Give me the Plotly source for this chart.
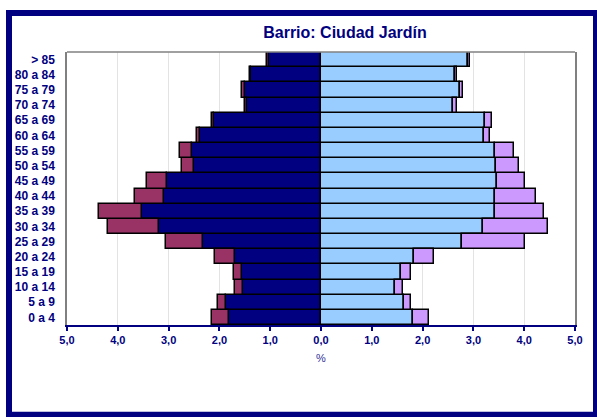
import plotly.graph_objects as go

age_groups = ["0 a 4", "5 a 9", "10 a 14", "15 a 19", "20 a 24", "25 a 29", "30 a 34",
              "35 a 39", "40 a 44", "45 a 49", "50 a 54", "55 a 59", "60 a 64", "65 a 69",
              "70 a 74", "75 a 79", "80 a 84", "> 85"]

left_base = [1.81, 1.87, 1.53, 1.55, 1.70, 2.32, 3.18, 3.53, 3.10, 3.03, 2.50, 2.54, 2.39, 2.10, 1.45, 1.49, 1.37, 1.03]
left_extra = [0.33, 0.16, 0.17, 0.17, 0.38, 0.74, 1.02, 0.84, 0.56, 0.40, 0.24, 0.24, 0.06, 0.05, 0.04, 0.06, 0.03, 0.03]
right_base = [1.82, 1.64, 1.46, 1.58, 1.83, 2.77, 3.19, 3.42, 3.42, 3.47, 3.44, 3.42, 3.21, 3.23, 2.60, 2.74, 2.63, 2.89]
right_extra = [0.31, 0.14, 0.15, 0.20, 0.40, 1.25, 1.27, 0.96, 0.82, 0.55, 0.45, 0.37, 0.12, 0.14, 0.07, 0.05, 0.04, 0.04]

tick_vals = [-5, -4, -3, -2, -1, 0, 1, 2, 3, 4, 5]
tick_text = ["5,0", "4,0", "3,0", "2,0", "1,0", "0,0", "1,0", "2,0", "3,0", "4,0", "5,0"]

NAVY = "#000080"
FONT = "Arial, Liberation Sans, sans-serif"

def bar(vals, color, sign):
    return go.Bar(y=age_groups, x=[sign * v for v in vals], orientation="h",
                  marker=dict(color=color, line=dict(color="black", width=1.5)),
                  showlegend=False)

fig = go.Figure()
fig.add_trace(bar(left_base, "#000080", -1))
fig.add_trace(bar(left_extra, "#993366", -1))
fig.add_trace(bar(right_base, "#99CCFF", 1))
fig.add_trace(bar(right_extra, "#CC99FF", 1))

W, H = 597, 417
L, R, T, B = 67, 575, 51.5, 325
pw, ph = R - L, B - T

def px_x(p):
    return (p - L) / pw

def px_y(p):
    return (B - p) / ph

fig.update_layout(
    width=W, height=H,
    margin=dict(l=L, r=W - R, t=T, b=H - B, pad=0),
    barmode="relative", bargap=0.0,
    plot_bgcolor="white", paper_bgcolor="white",
    font=dict(family=FONT, color=NAVY),
    title=dict(text="<b>Barrio: Ciudad Jardín</b>", xref="container", x=345 / W, xanchor="center",
               yref="container", y=1 - 32 / H, yanchor="middle",
               font=dict(size=16, color=NAVY, family=FONT)),
    xaxis=dict(range=[-5, 5], tickvals=tick_vals, ticktext=tick_text,
               tickfont=dict(size=11, color=NAVY, family=FONT, weight="bold"),
               showgrid=True, gridcolor="#E3E3E3", gridwidth=1,
               zeroline=False, showline=True, linecolor=NAVY, linewidth=2,
               ticks="outside", ticklen=4, tickcolor=NAVY, tickwidth=1.5,
               title=dict(text="%", font=dict(size=11, color="#333399", family=FONT), standoff=9)),
    yaxis=dict(categoryorder="array", categoryarray=age_groups,
               tickfont=dict(size=12, color=NAVY, family=FONT, weight="bold"),
               showgrid=False, zeroline=False, showline=True, mirror=True,
               linecolor="#808080", linewidth=1.5, ticks="", ticklabelstandoff=8),
    shapes=[
        dict(type="line", xref="paper", yref="paper", x0=0, x1=1, y0=1, y1=1,
             line=dict(color="#808080", width=1.5)),
        dict(type="rect", xref="paper", yref="paper",
             x0=px_x(9), x1=px_x(596), y0=px_y(12.5), y1=px_y(415),
             line=dict(color=NAVY, width=6), fillcolor="rgba(0,0,0,0)"),
    ],
)

fig.write_html("out.html", config={"displayModeBar": False},
               post_script="document.body.style.margin='0';document.body.style.overflow='hidden';")
